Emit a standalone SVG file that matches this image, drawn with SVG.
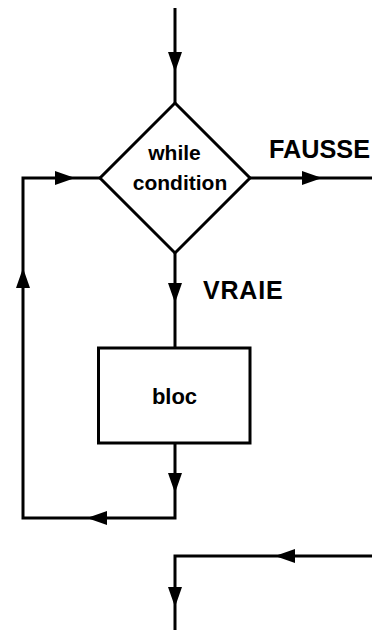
<svg xmlns="http://www.w3.org/2000/svg" xmlns:xlink="http://www.w3.org/1999/xlink" width="372" height="630" viewBox="0 0 372 630">
<style>
.ln{fill:none;stroke:#000;stroke-width:3;stroke-linejoin:miter;stroke-linecap:butt}
.shape{fill:#fff;stroke:#000;stroke-width:3}
.t{font-family:"Liberation Sans",Arial,Helvetica,sans-serif;font-weight:bold;fill:#000}
.in{font-size:21px;text-anchor:middle}
.lbl{font-size:25px}
</style>
<defs>
<polygon id="ah" points="0,0 -20,-7 -20,7" fill="#000"/>
</defs>
<rect width="372" height="630" fill="#fff"/>
<g id="connectors">
<path class="ln" d="M175,8 V103"/>
<path class="ln" d="M250,178 H372"/>
<path class="ln" d="M175,253 V348"/>
<path class="ln" d="M175,443 V518 H23 V178 H100"/>
<path class="ln" d="M372,556 H175 V630"/>
<use xlink:href="#ah" transform="translate(175,72) rotate(90)"/>
<use xlink:href="#ah" transform="translate(322,178)"/>
<use xlink:href="#ah" transform="translate(175,303) rotate(90)"/>
<use xlink:href="#ah" transform="translate(175,493) rotate(90)"/>
<use xlink:href="#ah" transform="translate(87,518) rotate(180)"/>
<use xlink:href="#ah" transform="translate(23,268) rotate(-90)"/>
<use xlink:href="#ah" transform="translate(75,178)"/>
<use xlink:href="#ah" transform="translate(275,556) rotate(180)"/>
<use xlink:href="#ah" transform="translate(175,607) rotate(90)"/>
</g>
<g id="condition">
<polygon class="shape" points="175,103 250,178 175,253 100,178"/>
<text class="t in" x="174.5" y="160">while</text>
<text class="t in" x="180" y="190">condition</text>
</g>
<g id="bloc">
<rect class="shape" x="98.5" y="348" width="151.5" height="95"/>
<text class="t in" x="174.5" y="404" style="font-size:22px">bloc</text>
</g>
<g id="labels">
<text class="t lbl" x="269" y="158" textLength="101" lengthAdjust="spacingAndGlyphs">FAUSSE</text>
<text class="t lbl" x="203" y="299" style="letter-spacing:0.8px">VRAIE</text>
</g>
</svg>
